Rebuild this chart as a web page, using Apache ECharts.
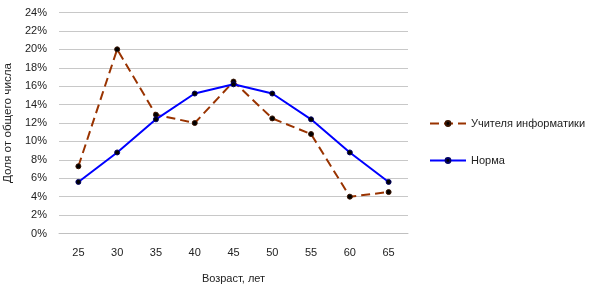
<!DOCTYPE html>
<html><head><meta charset="utf-8">
<script src="https://cdn.jsdelivr.net/npm/echarts@6/dist/echarts.min.js"></script>
<style>html,body{margin:0;padding:0;background:#fff}#c{width:592px;height:284px}</style>
</head><body><div id="c"></div>
<script>
const categories = ['25','30','35','40','45','50','55','60','65'];
const teachers = [7.3, 20.0, 12.9, 12.0, 16.5, 12.5, 10.8, 4.0, 4.5];
const norm = [5.6, 8.8, 12.4, 15.2, 16.2, 15.2, 12.4, 8.8, 5.6];
const yTicks = {min: 0, max: 24, interval: 2};
const seriesNames = ['Учителя информатики', 'Норма'];
const xName = 'Возраст, лет';
const yName = 'Доля от общего числа';

const font = 'Liberation Sans';
const chart = echarts.init(document.getElementById('c'));
chart.setOption({
  animation: false,
  textStyle: {fontFamily: font},
  grid: {left: 59, right: 184, top: 12.5, bottom: 50.5, containLabel: false, outerBoundsMode: 'none'},
  legend: {
    orient: 'vertical', left: 424, top: 113, itemGap: 26, itemWidth: 36, itemHeight: 6,
    textStyle: {fontFamily: font, fontSize: 11, color: '#222'},
    data: seriesNames
  },
  xAxis: {
    type: 'category', data: categories, boundaryGap: true,
    name: xName, nameLocation: 'middle', nameGap: 40,
    nameTextStyle: {fontFamily: font, fontSize: 11, color: '#222'},
    axisLine: {lineStyle: {color: '#c0c0c0'}},
    axisTick: {show: false},
    axisLabel: {fontFamily: font, fontSize: 11, color: '#222', margin: 14}
  },
  yAxis: {
    type: 'value', min: yTicks.min, max: yTicks.max, interval: yTicks.interval,
    name: yName, nameLocation: 'middle', nameGap: 40, nameRotate: 90,
    nameTextStyle: {fontFamily: font, fontSize: 11.7, color: '#222'},
    axisLine: {show: false}, axisTick: {show: false},
    splitLine: {lineStyle: {color: '#c8c8c8'}},
    axisLabel: {fontFamily: font, fontSize: 11, color: '#222', formatter: v => v + '%', margin: 12}
  },
  series: [
    {
      name: seriesNames[0], type: 'line', data: teachers,
      symbol: 'circle', symbolSize: 5,
      lineStyle: {color: '#993300', width: 2, type: [9, 5]},
      itemStyle: {color: '#000', borderColor: '#3a1400', borderWidth: 1},
      emphasis: {disabled: true}
    },
    {
      name: seriesNames[1], type: 'line', data: norm,
      symbol: 'circle', symbolSize: 5,
      lineStyle: {color: '#0000ff', width: 2},
      itemStyle: {color: '#000', borderColor: '#000066', borderWidth: 1},
      emphasis: {disabled: true}
    }
  ]
});
</script></body></html>
